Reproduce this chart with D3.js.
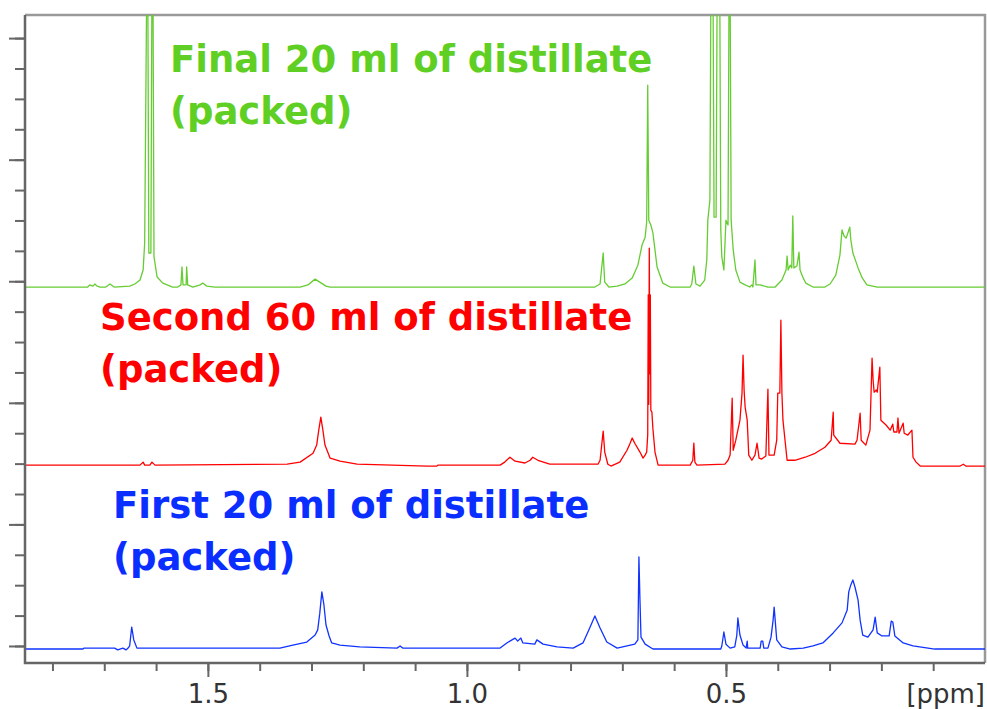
<!DOCTYPE html>
<html>
<head>
<meta charset="utf-8">
<script src="https://cdn.jsdelivr.net/npm/d3@7"></script>
<style>
  html, body { margin: 0; padding: 0; background: #fff; }
  svg { display: block; }
  .trace { fill: none; stroke-width: 1.3; stroke-linejoin: round; }
  .label { font-family: "DejaVu Sans", Verdana, sans-serif; font-weight: bold; font-size: 37px; }
  .axis text { font-family: "DejaVu Sans", sans-serif; font-size: 26px; fill: #333; }
  .axis line { stroke: #666; stroke-width: 2; }
</style>
</head>
<body>
<svg id="chart" width="987" height="709"></svg>
<script>
// chemical shift (ppm) / intensity (a.u.) pairs
const firstSpectrum = [
  [1.853,0],[1.741,0],[1.739,0.3],[1.680,0.3],[1.674,-0.3],[1.664,0.3],[1.658,-0.3],[1.654,0.3],[1.651,1.0],[1.647,7.2],[1.643,3.0],[1.637,0.3],
  [1.361,0.3],[1.336,1.3],[1.309,2.3],[1.293,4.6],[1.288,6.3],[1.284,11.8],[1.280,18.8],[1.276,14.5],[1.272,7.9],[1.266,4.3],[1.261,2.0],[1.245,1.3],[1.207,0.7],
  [1.135,0.3],[1.129,1.0],[1.124,0.3],[0.936,0.3],[0.923,2.0],[0.913,3.0],[0.907,3.6],[0.902,2.6],[0.896,3.6],[0.892,2.0],[0.869,1.6],[0.865,3.0],[0.853,1.6],
  [0.826,0.7],[0.795,0.3],[0.776,2.0],[0.763,6.9],[0.753,10.9],[0.743,6.9],[0.730,2.3],[0.710,0.3],[0.676,1.6],[0.670,3.0],[0.668,30.3],[0.666,16.1],[0.664,3.9],
  [0.656,1.6],[0.641,0],[0.510,0],[0.508,1.0],[0.504,5.6],[0.500,1.6],[0.492,0.3],[0.483,0.7],[0.479,4.6],[0.477,10.2],[0.473,4.6],[0.467,1.3],[0.461,0.3],
  [0.459,2.6],[0.458,0.3],[0.434,0.3],[0.432,2.6],[0.429,2.6],[0.427,0.3],[0.419,0.3],[0.413,3.9],[0.409,9.5],[0.407,13.8],[0.405,9.5],[0.402,3.0],[0.392,0.7],
  [0.376,0],[0.351,0.3],[0.332,1.0],[0.313,2.0],[0.293,5.3],[0.276,8.6],[0.266,12.8],[0.263,18.8],[0.259,21.1],[0.255,22.7],[0.251,20.4],[0.245,16.1],[0.241,9.5],
  [0.236,4.6],[0.226,3.9],[0.216,6.3],[0.212,10.5],[0.208,5.3],[0.199,4.3],[0.185,4.3],[0.181,9.2],[0.178,8.9],[0.174,4.3],[0.158,2.0],[0.139,1.0],[0.097,0],[0,0]
];

const secondSpectrum = [
  [1.853,0],[1.631,0],[1.625,1.0],[1.622,0],[1.612,0],[1.608,1.0],[1.602,0],[1.347,0.3],[1.322,1.0],[1.297,3.9],[1.290,6.6],[1.286,11.5],[1.282,15.8],
  [1.278,11.5],[1.274,6.6],[1.264,2.3],[1.245,1.3],[1.212,0.3],[1.077,-0.3],[1.058,-0.3],[1.056,0],[0.936,0],[0.927,1.0],[0.917,2.6],[0.907,1.3],[0.888,0.7],
  [0.878,1.6],[0.873,2.6],[0.863,1.6],[0.840,0.3],[0.747,0.3],[0.743,1.6],[0.737,11.2],[0.734,4.3],[0.728,0.3],[0.722,-0.3],[0.705,1.0],[0.691,4.9],[0.685,7.2],
  [0.681,8.9],[0.676,7.2],[0.666,4.3],[0.660,2.3],[0.656,3.3],[0.653,4.3],[0.651,10],[0.650,56],[0.649,20],[0.648,71.4],[0.647,30],[0.646,56],[0.645,18],
  [0.643,17.5],[0.641,12],[0.637,4.3],[0.631,0],[0.569,0],[0.564,1.6],[0.562,7.2],[0.560,1.0],[0.556,0],[0.502,0.3],[0.496,1.6],[0.492,3.3],[0.488,22.0],
  [0.486,4.9],[0.481,8.2],[0.473,14.8],[0.469,23.7],[0.467,36.2],[0.465,24.7],[0.463,19.1],[0.459,14.8],[0.456,3.3],[0.450,1.6],[0.444,3.3],[0.440,7.2],
  [0.436,2.3],[0.431,2.0],[0.423,3.0],[0.419,25.0],[0.417,3.3],[0.407,3.3],[0.402,8.2],[0.400,23.7],[0.396,23.7],[0.394,47.7],[0.392,23.7],[0.390,14.8],
  [0.382,1.6],[0.367,1.6],[0.347,2.6],[0.328,3.9],[0.309,5.9],[0.297,8.2],[0.293,17.4],[0.292,9.9],[0.280,7.2],[0.251,6.9],[0.247,8.2],[0.241,17.1],[0.239,8.2],
  [0.230,6.6],[0.222,11.5],[0.218,35.2],[0.216,28.0],[0.214,24.0],[0.210,24.7],[0.208,24.0],[0.203,32.2],[0.201,14.8],[0.191,13.2],[0.183,11.5],[0.178,13.5],
  [0.176,10.9],[0.170,10.9],[0.168,15.5],[0.166,10.5],[0.158,13.8],[0.156,10.5],[0.149,9.9],[0.141,11.5],[0.139,2.6],[0.133,1.0],[0.125,-0.3],[0.048,-0.3],
  [0.042,0.3],[0.037,-0.3],[0,-0.3]
];

const finalSpectrum = [
  [1.853,0],[1.732,0],[1.728,0.7],[1.722,0.3],[1.718,1.0],[1.714,0.3],[1.708,0],[1.697,0],[1.689,1.0],[1.681,0],[1.651,0.3],[1.641,1.0],[1.631,2.3],
  [1.625,5.6],[1.622,14.5],[1.618,100],[1.616,100],[1.614,11.2],[1.610,11.2],[1.608,100],[1.606,100],[1.604,9.9],[1.598,3.3],[1.587,1.3],[1.568,0],
  [1.558,0],[1.552,0.7],[1.550,6.6],[1.548,0.7],[1.542,0.7],[1.541,6.6],[1.539,0.7],[1.529,0],[1.515,0.7],[1.510,1.3],[1.502,0.3],[1.486,0],[1.322,0],
  [1.307,0.7],[1.293,2.6],[1.284,1.6],[1.272,0.3],[1.264,0],[0.753,0],[0.743,1.0],[0.737,11.2],[0.734,1.6],[0.726,0],[0.710,0.3],[0.695,1.0],[0.681,3.0],
  [0.670,7.2],[0.662,13.8],[0.656,16.4],[0.653,21.4],[0.651,66.4],[0.649,22.0],[0.645,20.4],[0.641,17.8],[0.637,12.2],[0.633,6.6],[0.622,1.3],[0.608,0],
  [0.569,0],[0.566,1.0],[0.562,6.9],[0.558,1.0],[0.550,0.3],[0.541,2.3],[0.537,8.9],[0.535,22.0],[0.531,28.6],[0.529,100],[0.525,100],[0.523,23.0],
  [0.519,23.0],[0.517,100],[0.512,100],[0.510,18.8],[0.508,9.9],[0.504,5.6],[0.502,13.8],[0.500,22.0],[0.496,20.4],[0.494,100],[0.492,100],[0.490,22.0],
  [0.486,12.2],[0.481,5.6],[0.473,1.6],[0.463,0.7],[0.454,0],[0.450,0.7],[0.448,0],[0.444,8.9],[0.442,0.7],[0.434,0.7],[0.419,0],[0.405,0],[0.392,2.3],
  [0.384,5.6],[0.382,10.2],[0.380,5.6],[0.376,7.2],[0.373,6.3],[0.371,23.4],[0.369,6.3],[0.363,6.9],[0.359,11.5],[0.357,5.6],[0.351,3.0],[0.346,1.3],
  [0.332,0],[0.309,0],[0.299,1.0],[0.288,3.9],[0.280,10.5],[0.276,18.8],[0.272,16.8],[0.268,16.1],[0.264,18.1],[0.261,19.7],[0.259,15.5],[0.255,11.2],
  [0.245,6.3],[0.237,3.0],[0.228,0.7],[0.208,0],[0,0]
];

// stacking offsets (a.u.) of each trace
const traceOffsets = [-1.0, 59.5, 118.1];
const traceColors = ["#1133ff", "#ff0000", "#66cc33"];
const labelColors = ["#0a2eff", "#ff0000", "#5fcf24"];
const labelLines = [
  ["First 20 ml of distillate", "(packed)"],
  ["Second 60 ml of distillate", "(packed)"],
  ["Final 20 ml of distillate", "(packed)"]
];

const xDomain = [1.853, 0];
const yDomain = [-5.6, 207.6];
const xMinorTicks = d3.range(1, 19).map(d => d / 10);
const xMajorTicks = [0.5, 1.0, 1.5];
const yMinorTicks = d3.range(0, 21).map(d => d * 10);
const yMajorTicks = [0, 40, 80, 120, 160, 200];

const svg = d3.select("#chart"),
  width = +svg.attr("width"),
  height = +svg.attr("height"),
  margin = { top: 15, right: 2, bottom: 46, left: 25 },
  innerW = width - margin.left - margin.right,
  innerH = height - margin.top - margin.bottom;

const x = d3.scaleLinear().domain(xDomain).range([0, innerW]);
const y = d3.scaleLinear().domain(yDomain).range([innerH, 0]);

const frame = svg.append("g")
  .attr("transform", `translate(${margin.left},${margin.top})`);

frame.append("clipPath").attr("id", "plot-clip")
  .append("rect").attr("width", innerW).attr("height", innerH);

// light frame on top and right
frame.append("path")
  .attr("d", `M0,0H${innerW}V${innerH}`)
  .attr("fill", "none").attr("stroke", "#999").attr("stroke-width", 2.5);

// traces
const spectra = [firstSpectrum, secondSpectrum, finalSpectrum];
const traces = frame.append("g").attr("clip-path", "url(#plot-clip)");
spectra.forEach((data, i) => {
  const line = d3.line()
    .x(d => x(d[0]))
    .y(d => y(d[1] + traceOffsets[i]));
  traces.append("path")
    .datum(data)
    .attr("class", "trace")
    .attr("stroke", traceColors[i])
    .attr("d", line);
});

// axes
const xAxisG = frame.append("g").attr("class", "axis").attr("transform", `translate(0,${innerH})`);
xAxisG.append("g").call(d3.axisBottom(x).tickValues(xMinorTicks).tickSize(8).tickFormat(""));
xAxisG.append("g").call(d3.axisBottom(x).tickValues(xMajorTicks).tickSize(14).tickFormat(d3.format(".1f")))
  .selectAll("text").attr("y", 40).attr("dy", 0);
xAxisG.selectAll(".domain").remove();

const yAxisG = frame.append("g").attr("class", "axis");
yAxisG.append("g").call(d3.axisLeft(y).tickValues(yMinorTicks).tickSize(10).tickFormat(""));
yAxisG.append("g").call(d3.axisLeft(y).tickValues(yMajorTicks).tickSize(16).tickFormat(""));
yAxisG.selectAll(".domain").remove();

frame.append("path")
  .attr("d", `M0,0V${innerH}H${innerW}`)
  .attr("fill", "none").attr("stroke", "#666").attr("stroke-width", 2.5);

frame.append("text")
  .attr("x", innerW).attr("y", innerH + 40)
  .attr("text-anchor", "end")
  .style("font-family", "DejaVu Sans, sans-serif").style("font-size", "26px").style("fill", "#333")
  .text("[ppm]");

// labels beside each trace
const labelAnchors = [[88, 503], [75, 315], [145, 57]];
labelLines.forEach((lines, i) => {
  const t = frame.append("text")
    .attr("class", "label")
    .attr("fill", labelColors[i])
    .attr("x", labelAnchors[i][0])
    .attr("y", labelAnchors[i][1]);
  lines.forEach((s, j) => {
    t.append("tspan")
      .attr("x", labelAnchors[i][0])
      .attr("dy", j === 0 ? 0 : 52)
      .text(s);
  });
});
</script>
</body>
</html>
